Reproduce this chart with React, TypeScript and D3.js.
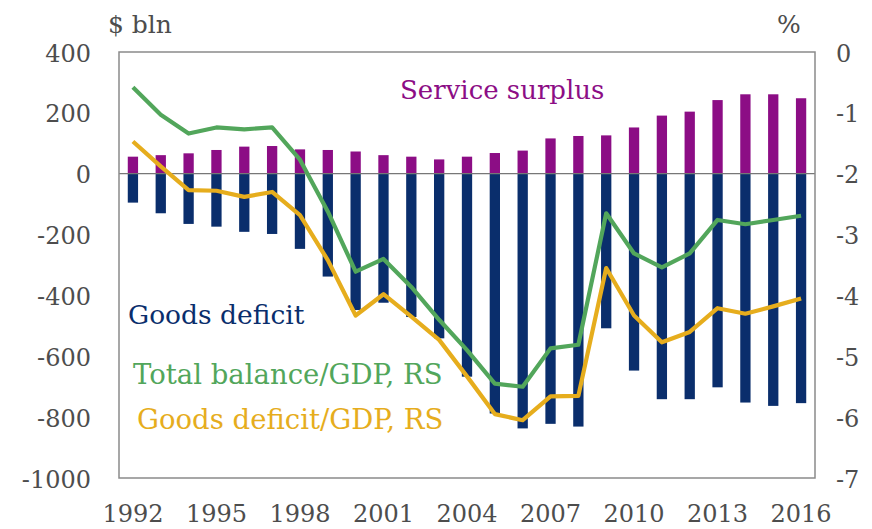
import * as d3 from "d3";

// US trade balance, annual
const years = [
  "1992", "1993", "1994", "1995", "1996", "1997", "1998", "1999", "2000",
  "2001", "2002", "2003", "2004", "2005", "2006", "2007", "2008", "2009",
  "2010", "2011", "2012", "2013", "2014", "2015", "2016",
];
const serviceSurplus = [
  56, 61, 67, 78, 89, 91, 80, 78, 73, 61, 56, 47, 56, 68, 76, 116, 124, 126,
  152, 191, 204, 242, 261, 261, 248,
];
const goodsDeficit = [
  -95, -130, -165, -174, -191, -198, -247, -338, -448, -424, -471, -541, -667,
  -788, -837, -822, -831, -508, -647, -741, -741, -702, -752, -763, -754,
];
const totalBalanceGdp = [
  -0.58, -1.03, -1.34, -1.24, -1.27, -1.24, -1.77, -2.62, -3.61, -3.4, -3.86,
  -4.4, -4.9, -5.45, -5.5, -4.87, -4.81, -2.65, -3.31, -3.54, -3.31, -2.76,
  -2.83, -2.76, -2.69,
];
const goodsDeficitGdp = [
  -1.47, -1.88, -2.27, -2.28, -2.38, -2.3, -2.68, -3.42, -4.33, -3.98, -4.35,
  -4.73, -5.33, -5.95, -6.05, -5.66, -5.65, -3.55, -4.33, -4.77, -4.6, -4.21,
  -4.3, -4.18, -4.05,
];
const leftTicks = [400, 200, 0, -200, -400, -600, -800, -1000];
const rightTicks = [0, -1, -2, -3, -4, -5, -6, -7];
const yearLabels = ["1992", "1995", "1998", "2001", "2004", "2007", "2010", "2013", "2016"];

const W = 872;
const H = 529;
const plot = { left: 119, right: 815, top: 52, bottom: 478 };

const PURPLE = "#8c0d85";
const NAVY = "#0a2e6c";
const GREEN = "#52a65b";
const GOLD = "#e6ad1d";
const GREY = "#4d4d4d";
const FONT = "'DejaVu Serif', serif";

export default function App() {
  const x = d3
    .scaleBand()
    .domain(years)
    .range([plot.left, plot.right])
    .paddingInner(0.63)
    .paddingOuter(0.315);

  const yL = d3.scaleLinear().domain([-1000, 400]).range([plot.bottom, plot.top]);
  const yR = d3.scaleLinear().domain([-7, 0]).range([plot.bottom, plot.top]);

  const cx = (i: number) => x(years[i])! + x.bandwidth() / 2;

  const line = d3
    .line<number>()
    .x((_, i) => cx(i))
    .y(d => yR(d));

  return (
    <svg
      width={W}
      height={H}
      style={{ position: "absolute", left: 0, top: 0, background: "#fff" }}
      fontFamily={FONT}
    >
      {/* bars */}
      {serviceSurplus.map((v, i) => (
        <rect
          key={"s" + i}
          x={x(years[i])}
          y={yL(v)}
          width={x.bandwidth()}
          height={yL(0) - yL(v)}
          fill={PURPLE}
        />
      ))}
      {goodsDeficit.map((v, i) => (
        <rect
          key={"g" + i}
          x={x(years[i])}
          y={yL(0)}
          width={x.bandwidth()}
          height={yL(v) - yL(0)}
          fill={NAVY}
        />
      ))}

      {/* zero line */}
      <line
        x1={plot.left}
        x2={plot.right}
        y1={yL(0)}
        y2={yL(0)}
        stroke="#777"
        strokeWidth={1.2}
      />

      {/* lines on right scale */}
      <path
        d={line(totalBalanceGdp) ?? ""}
        fill="none"
        stroke={GREEN}
        strokeWidth={4.2}
        strokeLinejoin="round"
      />
      <path
        d={line(goodsDeficitGdp) ?? ""}
        fill="none"
        stroke={GOLD}
        strokeWidth={4.2}
        strokeLinejoin="round"
      />

      {/* frame */}
      <rect
        x={plot.left}
        y={plot.top}
        width={plot.right - plot.left}
        height={plot.bottom - plot.top}
        fill="none"
        stroke="#8a8a8a"
        strokeWidth={1.5}
      />

      {/* left axis */}
      {leftTicks.map(t => (
        <text
          key={"l" + t}
          x={91}
          y={yL(t) + 3}
          textAnchor="end"
          dominantBaseline="middle"
          fontSize={24}
          fill={GREY}
        >
          {t}
        </text>
      ))}
      <text x={108} y={33} fontSize={25} fill={GREY}>
        $ bln
      </text>

      {/* right axis */}
      {rightTicks.map(t => (
        <text
          key={"r" + t}
          x={836}
          y={yR(t) + 3}
          textAnchor="start"
          dominantBaseline="middle"
          fontSize={24}
          fill={GREY}
        >
          {t}
        </text>
      ))}
      <text x={777} y={33} fontSize={25} fill={GREY}>
        %
      </text>

      {/* x axis */}
      {yearLabels.map(yr => (
        <text
          key={yr}
          x={x(yr)! + x.bandwidth() / 2}
          y={522}
          textAnchor="middle"
          fontSize={24}
          fill={GREY}
        >
          {yr}
        </text>
      ))}

      {/* labels */}
      <text x={400} y={99} fontSize={26} fill={PURPLE}>
        Service surplus
      </text>
      <text x={128} y={324} fontSize={26.5} fill={NAVY}>
        Goods deficit
      </text>
      <text x={133} y={384} fontSize={27.5} fill={GREEN}>
        Total balance/GDP, RS
      </text>
      <text x={137} y={429} fontSize={27.5} fill={GOLD}>
        Goods deficit/GDP, RS
      </text>
    </svg>
  );
}
